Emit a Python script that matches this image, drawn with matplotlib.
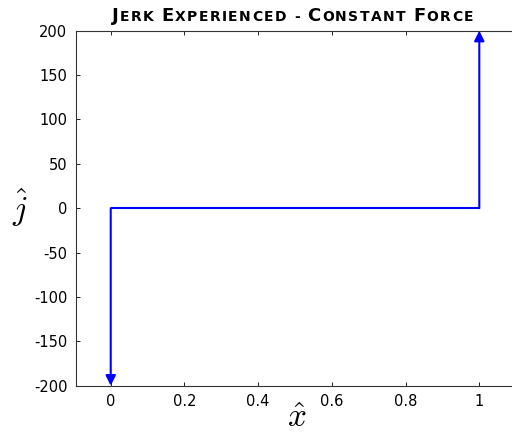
import numpy as np
import matplotlib
matplotlib.use("Agg")
import matplotlib.pyplot as plt
from matplotlib.offsetbox import TextArea, HPacker, AnchoredOffsetbox

# jerk profile for a constant force: impulse down at x=0, impulse up at x=1
x_hat = [0, 0, 1, 1]
j_hat = [-200, 0, 0, 200]

x_ticks = [0, 0.2, 0.4, 0.6, 0.8, 1]
x_ticklabels = ["0", "0.2", "0.4", "0.6", "0.8", "1"]
y_ticks = [-200, -150, -100, -50, 0, 50, 100, 150, 200]

title_parts = [("J", True), ("ERK ", False), ("E", True), ("XPERIENCED - ", False),
               ("C", True), ("ONSTANT ", False), ("F", True), ("ORCE", False)]

plt.rcParams["font.family"] = ["DejaVu Sans"]
plt.rcParams["mathtext.fontset"] = "cm"
plt.rcParams["axes.unicode_minus"] = False

fig = plt.figure(figsize=(5.12, 4.34), dpi=100)
W, H = 512, 434
left, right, top, bottom = 75.7, 518, 30.7, 385.7
ax = fig.add_axes([left / W, 1 - bottom / H, (right - left) / W, (bottom - top) / H])

col = "#0000ff"
ax.plot(x_hat[1:3], j_hat[1:3], color=col, lw=1.5, solid_capstyle="butt")
for a, b in [(1, 0), (2, 3)]:
    ax.annotate("", xy=(x_hat[b], j_hat[b]), xytext=(x_hat[a], j_hat[a]),
                arrowprops=dict(arrowstyle="-|>", color=col, lw=1.5,
                                mutation_scale=15, shrinkA=0, shrinkB=0),
                annotation_clip=False)

ax.set_xlim(-0.095, 1.105)
ax.set_ylim(-200, 200)
ax.set_xticks(x_ticks)
ax.set_xticklabels(x_ticklabels)
ax.set_yticks(y_ticks)
ax.tick_params(direction="in", length=3, width=0.6, top=True, right=True,
               labelsize=10.5, pad=6)
for s in ax.spines.values():
    s.set_linewidth(0.8)
    s.set_color("#333333")

ax.set_xlabel(r"$\hat{x}$", fontsize=24, labelpad=-6)
ax.set_ylabel(r"$\hat{j}$", fontsize=24, rotation=0, labelpad=10, va="center")

# small-caps title built letter by letter
areas = []
for t, big in title_parts:
    for i, ch in enumerate(t):
        size = 13 if (big and i == 0) else 10
        areas.append(TextArea(ch, textprops=dict(fontsize=size, fontweight="bold")))
pack = HPacker(children=areas, align="baseline", pad=0, sep=1.0)
box = AnchoredOffsetbox(loc="lower center", child=pack, frameon=False,
                        bbox_to_anchor=(0.49, 1.0), bbox_transform=ax.transAxes,
                        pad=0, borderpad=0.4)
ax.add_artist(box)

fig.savefig("out.png", dpi=100)
